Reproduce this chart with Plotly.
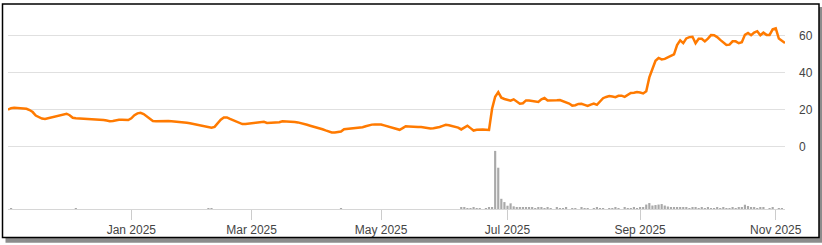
import pandas as pd
import numpy as np
import plotly.graph_objects as go

# ---- calendar (US trading days) ----
holidays = ["2024-11-28", "2024-12-25", "2025-01-01", "2025-01-09", "2025-01-20",
            "2025-02-17", "2025-04-18", "2025-05-26", "2025-06-19", "2025-07-04",
            "2025-09-01"]
start_date = "2024-11-04"
end_date = "2025-11-06"
tick_months = ["2025-01-01", "2025-03-01", "2025-05-01", "2025-07-01", "2025-09-01", "2025-11-01"]

# ---- price (one value per trading day) ----
price = [
    20.0, 20.8, 21.0, 20.9, 20.8, 20.8, 20.5, 19.8, 18.7, 16.8,
    15.8, 15.2, 15.0, 15.4, 15.9, 16.3, 16.6, 17.0, 17.3, 17.8,
    17.0, 15.6, 15.3, 15.2, 15.1, 15.0, 15.0, 15.0, 15.0, 15.0,
    14.9, 14.4, 14.1, 13.7, 13.9, 14.3, 14.5, 14.5, 14.5, 14.4,
    15.3, 17.0, 18.0, 18.3, 17.6, 16.5, 15.3, 13.9, 13.7, 13.8,
    13.7, 13.8, 13.8, 13.7, 13.6, 13.4, 13.2, 13.0, 12.9, 12.6,
    12.3, 12.0, 11.6, 11.2, 10.8, 10.5, 10.2, 10.7, 12.6, 14.6,
    15.8, 15.8, 15.0, 14.3, 13.8, 13.1, 12.2, 12.3, 12.5, 12.9,
    13.1, 13.2, 13.4, 13.4, 12.8, 12.8, 12.9, 13.0, 13.2, 13.7,
    13.7, 13.6, 13.5, 13.3, 13.1, 12.8, 12.3, 11.8, 11.3, 10.9,
    10.4, 9.9, 9.4, 8.8, 8.2, 7.7, 7.7, 7.8, 8.2, 9.4,
    9.6, 9.7, 9.8, 9.9, 10.0, 10.5, 11.0, 11.5, 11.9, 12.0,
    12.2, 12.0, 11.5, 11.0, 10.3, 9.7, 9.3, 9.1, 10.0, 11.0,
    10.9, 10.7, 10.6, 10.6, 10.6, 10.3, 9.7, 9.8, 9.9, 10.1,
    10.6, 11.2, 11.8, 11.6, 11.2, 10.8, 10.3, 9.3, 10.3, 11.3,
    10.0, 8.7, 9.1, 9.3, 9.2, 9.1, 9.0, 20.5, 27.0, 29.5,
    26.5, 25.8, 25.5, 24.9, 25.6, 24.5, 23.2, 23.5, 25.0, 25.0,
    24.6, 24.2, 24.2, 25.6, 26.3, 25.0, 24.9, 25.0, 25.1, 25.2,
    24.6, 24.1, 23.3, 22.2, 22.4, 23.1, 23.2, 22.6, 22.0, 22.7,
    23.3, 22.6, 24.2, 26.2, 26.9, 27.4, 27.1, 26.8, 27.5, 27.6,
    26.9, 28.0, 29.0, 29.2, 29.5, 29.3, 28.8, 30.0, 37.5, 42.0,
    46.5, 48.0, 47.2, 47.5, 48.3, 49.0, 50.0, 55.0, 57.5, 56.0,
    58.6, 59.3, 59.5, 56.0, 58.4, 58.4, 57.0, 58.5, 60.4, 60.3,
    59.3, 57.8, 56.4, 55.0, 55.2, 57.0, 57.0, 56.0, 56.5, 60.5,
    61.5, 60.3, 61.8, 62.5, 60.3, 61.7, 60.5, 60.5, 63.5, 64.0,
    58.5, 57.3, 56.1,
]

# ---- volume (one value per trading day, arbitrary units) ----
volume = [
    0, 100, 0, 0, 0, 0, 0, 0, 0, 0, 0, 0, 0, 0, 0, 0, 0, 0, 0, 0,
    0, 0, 100, 0, 0, 0, 0, 0, 0, 0, 0, 0, 0, 0, 0, 0, 0, 0, 0, 0,
    0, 0, 0, 0, 0, 0, 0, 0, 0, 0, 0, 0, 0, 0, 0, 0, 0, 0, 0, 0,
    0, 0, 0, 0, 0, 100, 100, 0, 0, 0, 0, 0, 0, 0, 0, 0, 0, 0, 0, 0,
    0, 0, 0, 0, 0, 0, 0, 0, 0, 0, 0, 0, 0, 0, 0, 0, 0, 0, 0, 0,
    0, 0, 0, 0, 0, 0, 0, 0, 100, 0, 0, 0, 0, 0, 0, 0, 0, 0, 0, 0,
    0, 0, 0, 0, 0, 0, 0, 0, 0, 0, 0, 0, 0, 0, 0, 0, 0, 0, 0, 0,
    0, 0, 0, 0, 0, 0, 0, 150, 150, 100, 100, 120, 100, 100, 0, 100, 150, 200, 5870, 4170,
    1030, 700, 330, 570, 270, 150, 180, 180, 180, 120, 150, 100, 150, 120, 100, 130, 100, 0, 120, 100,
    100, 120, 0, 100, 100, 0, 120, 100, 100, 0, 100, 120, 100, 100, 0, 100, 100, 120, 100, 0,
    120, 100, 100, 150, 100, 120, 150, 450, 600, 350, 400, 450, 500, 350, 250, 150, 200, 150, 150, 120,
    150, 100, 150, 150, 100, 120, 100, 150, 100, 100, 120, 100, 150, 100, 100, 120, 100, 150, 200, 430,
    300, 200, 150, 100, 150, 120, 0, 100, 120, 0, 100, 80, 0,
]

dates = pd.bdate_range(start_date, end_date, freq="C", holidays=holidays)
x_idx = np.arange(len(dates))

tick_idx = [int(np.searchsorted(dates.values, np.datetime64(m))) for m in tick_months]
tick_txt = [pd.Timestamp(m).strftime("%b %Y") for m in tick_months]

FONT = "Liberation Sans, Arial, sans-serif"

fig = go.Figure()
fig.add_trace(go.Bar(x=x_idx, y=volume, yaxis="y2", marker=dict(color="#a9a9a9", line=dict(width=0)),
                     hoverinfo="skip"))
fig.add_trace(go.Scatter(x=x_idx, y=price, mode="lines",
                         line=dict(color="#ff7a00", width=2.5)))

# layout geometry
W, H = 822, 245
L, R, T, B = 8, 37, 12, 34
pw, ph = W - L - R, H - T - B


def px(xp):
    return (xp - L) / pw


def py(yp):
    return (H - B - yp) / ph


shapes = [
    dict(type="rect", xref="paper", yref="paper", layer="below",
         x0=px(5.5), x1=px(822), y0=py(7), y1=py(245),
         fillcolor="#8c8c8c", line=dict(width=0)),
    dict(type="rect", xref="paper", yref="paper", layer="below",
         x0=px(2.5), x1=px(819), y0=py(4), y1=py(239.7),
         fillcolor="white", line=dict(color="black", width=1.5)),
]

fig.update_layout(
    width=W, height=H,
    margin=dict(l=L, r=R, t=T, b=B),
    paper_bgcolor="white", plot_bgcolor="rgba(0,0,0,0)",
    showlegend=False, bargap=0.3,
    font=dict(family=FONT, size=12, color="#444"),
    shapes=shapes,
    xaxis=dict(range=[0, len(dates) - 1], tickvals=tick_idx, ticktext=tick_txt,
               ticks="outside", ticklen=10, tickcolor="#cccccc", tickwidth=1,
               showline=True, linecolor="#d6d6d6", linewidth=1,
               showgrid=False, zeroline=False,
               tickfont=dict(family=FONT, size=12, color="#444")),
    yaxis=dict(side="right", range=[-33.8, 72.9], tickvals=[0, 20, 40, 60],
               showgrid=True, gridcolor="#e0e0e0", gridwidth=1, zeroline=False,
               showline=False, ticks="", ticklabelstandoff=13,
               tickfont=dict(family=FONT, size=12, color="#444")),
    yaxis2=dict(overlaying="y", range=[0, 19900], visible=False, showgrid=False),
)

fig.write_html("out.html")
